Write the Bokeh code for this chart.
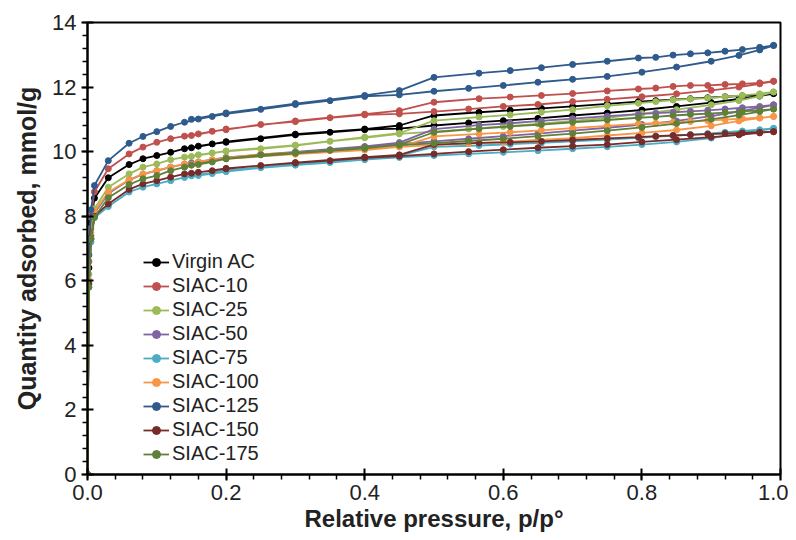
from bokeh.plotting import figure
from bokeh.models import Range1d, SingleIntervalTicker, NumeralTickFormatter, Legend, LegendItem
from bokeh.embed import file_html
from bokeh.resources import INLINE

# Relative pressure grids (adsorption up, desorption down)
ads_p = [0.0, 0.002, 0.005, 0.01, 0.03, 0.06, 0.08, 0.10, 0.12, 0.14, 0.16, 0.18, 0.20, 0.25, 0.30,
         0.35, 0.40, 0.45, 0.50, 0.55, 0.60, 0.65, 0.70, 0.75, 0.80, 0.85, 0.90, 0.94, 0.97, 0.99]
des_p = [0.99, 0.97, 0.945, 0.92, 0.895, 0.87, 0.845, 0.82, 0.795, 0.75, 0.70, 0.655, 0.61, 0.565,
         0.50, 0.45, 0.40, 0.30, 0.20, 0.15]

names = ["Virgin AC", "SIAC-10", "SIAC-25", "SIAC-50", "SIAC-75", "SIAC-100", "SIAC-125", "SIAC-150", "SIAC-175"]
colors = ["#000000", "#C0504D", "#9BBB59", "#8064A2", "#4BACC6", "#F79646", "#2F5A8C", "#772C2A", "#60803A"]

virgin_ads = [0, 6.4, 7.8, 8.56, 9.19, 9.60, 9.78, 9.88, 9.98, 10.09, 10.17, 10.24, 10.29, 10.40, 10.52,
              10.60, 10.68, 10.71, 10.81, 10.89, 10.96, 11.03, 11.12, 11.20, 11.29, 11.40, 11.52, 11.63, 11.72, 11.80]
virgin_des = [11.80, 11.76, 11.73, 11.70, 11.67, 11.64, 11.61, 11.58, 11.55, 11.48, 11.40, 11.34, 11.28, 11.22,
              11.12, 10.81, 10.70, 10.54, 10.31, 10.12]

siac10_ads = [0, 6.6, 8.0, 8.76, 9.47, 9.93, 10.14, 10.29, 10.40, 10.48, 10.55, 10.63, 10.68, 10.84, 10.93,
              11.05, 11.14, 11.17, 11.24, 11.32, 11.40, 11.46, 11.55, 11.62, 11.70, 11.79, 11.90, 12.00, 12.10, 12.18]
siac10_des = [12.18, 12.13, 12.10, 12.08, 12.05, 12.05, 12.02, 11.97, 11.94, 11.88, 11.80, 11.74, 11.69, 11.64,
              11.53, 11.27, 11.16, 10.95, 10.70, 10.50]

siac25_ads = [0, 6.2, 7.6, 8.23, 8.90, 9.31, 9.52, 9.62, 9.75, 9.83, 9.90, 9.96, 10.01, 10.09, 10.19,
              10.32, 10.43, 10.55, 10.62, 10.70, 10.78, 10.86, 10.95, 11.05, 11.18, 11.30, 11.45, 11.58, 11.72, 11.85]
siac25_des = [11.85, 11.79, 11.74, 11.70, 11.66, 11.63, 11.60, 11.55, 11.50, 11.42, 11.30, 11.22, 11.14, 11.07,
              10.96, 10.57, 10.45, 10.20, 10.02, 9.85]

siac50_ads = [0, 6.0, 7.4, 8.10, 8.70, 9.12, 9.30, 9.41, 9.52, 9.61, 9.68, 9.74, 9.80, 9.91, 9.98,
              10.06, 10.14, 10.24, 10.32, 10.40, 10.48, 10.56, 10.65, 10.74, 10.84, 10.95, 11.10, 11.24, 11.36, 11.45]
siac50_des = [11.45, 11.40, 11.36, 11.32, 11.28, 11.25, 11.22, 11.19, 11.16, 11.10, 11.02, 10.95, 10.88, 10.82,
              10.70, 10.28, 10.16, 9.99, 9.82, 9.65]

siac75_ads = [0, 5.8, 7.2, 7.95, 8.30, 8.75, 8.90, 9.00, 9.10, 9.20, 9.26, 9.32, 9.38, 9.50, 9.58,
              9.66, 9.75, 9.82, 9.88, 9.93, 9.98, 10.03, 10.09, 10.15, 10.22, 10.30, 10.42, 10.55, 10.65, 10.72]
siac75_des = [10.72, 10.68, 10.64, 10.60, 10.56, 10.53, 10.50, 10.46, 10.43, 10.37, 10.32, 10.27, 10.23, 10.19,
              10.15, 9.88, 9.78, 9.62, 9.42, 9.25]

siac100_ads = [0, 6.0, 7.5, 8.15, 8.74, 9.13, 9.31, 9.41, 9.52, 9.62, 9.68, 9.75, 9.81, 9.92, 9.97,
               10.03, 10.10, 10.15, 10.20, 10.25, 10.30, 10.36, 10.42, 10.50, 10.58, 10.67, 10.80, 10.95, 11.04, 11.09]
siac100_des = [11.09, 11.05, 11.02, 10.99, 10.96, 10.93, 10.91, 10.88, 10.86, 10.80, 10.73, 10.66, 10.60, 10.55,
               10.47, 10.15, 10.05, 9.92, 9.78, 9.60]

siac125_ads = [0, 6.8, 8.2, 8.95, 9.72, 10.26, 10.47, 10.62, 10.78, 10.91, 11.01, 11.09, 11.17, 11.31, 11.46,
               11.58, 11.71, 11.76, 11.87, 11.96, 12.05, 12.15, 12.24, 12.33, 12.46, 12.62, 12.80, 12.98, 13.15, 13.29]
siac125_des = [13.29, 13.23, 13.16, 13.11, 13.06, 13.03, 12.99, 12.92, 12.90, 12.80, 12.70, 12.60, 12.51, 12.43,
               12.30, 11.89, 11.74, 11.49, 11.20, 11.00]

siac150_ads = [0, 5.9, 7.3, 8.00, 8.38, 8.83, 9.00, 9.10, 9.21, 9.31, 9.36, 9.41, 9.47, 9.57, 9.65,
               9.72, 9.81, 9.86, 9.93, 10.00, 10.06, 10.12, 10.17, 10.22, 10.30, 10.37, 10.45, 10.52, 10.58, 10.62]
siac150_des = [10.62, 10.60, 10.58, 10.56, 10.54, 10.52, 10.50, 10.48, 10.45, 10.41, 10.36, 10.32, 10.29, 10.27,
               10.22, 9.90, 9.83, 9.66, 9.48, 9.33]

siac175_ads = [0, 5.8, 7.3, 7.97, 8.57, 8.98, 9.16, 9.26, 9.41, 9.52, 9.60, 9.68, 9.78, 9.90, 9.97,
               10.04, 10.12, 10.20, 10.26, 10.33, 10.40, 10.48, 10.56, 10.65, 10.75, 10.87, 11.00, 11.13, 11.24, 11.32]
siac175_des = [11.32, 11.28, 11.25, 11.21, 11.18, 11.15, 11.12, 11.08, 11.05, 10.98, 10.91, 10.84, 10.78, 10.71,
               10.60, 10.22, 10.10, 9.95, 9.78, 9.58]

ads_all = [virgin_ads, siac10_ads, siac25_ads, siac50_ads, siac75_ads, siac100_ads, siac125_ads, siac150_ads, siac175_ads]
des_all = [virgin_des, siac10_des, siac25_des, siac50_des, siac75_des, siac100_des, siac125_des, siac150_des, siac175_des]

FONT = "Liberation Sans"

p = figure(width=788, height=540, output_backend="svg", toolbar_location=None,
           x_range=Range1d(0, 1), y_range=Range1d(0, 14),
           min_border_left=87, min_border_right=8, min_border_top=22, min_border_bottom=66)
p.xgrid.visible = False
p.ygrid.visible = False
p.outline_line_color = "black"
p.outline_line_width = 2
p.background_fill_color = "white"
p.border_fill_color = "white"

items = []
for name, col, ya, yd in zip(names, colors, ads_all, des_all):
    xs = ads_p + des_p
    ys = ya + yd
    ln = p.line(xs, ys, line_color=col, line_width=1.8)
    sc = p.scatter(xs, ys, marker="circle", size=6, fill_color=col, line_color=col)
    items.append(LegendItem(label=name, renderers=[ln, sc]))

p.xaxis.ticker = SingleIntervalTicker(interval=0.2, num_minor_ticks=5)
p.yaxis.ticker = SingleIntervalTicker(interval=2, num_minor_ticks=5)
p.xaxis.formatter = NumeralTickFormatter(format="0.0")

for ax in (p.xaxis[0], p.yaxis[0]):
    ax.axis_line_color = "black"
    ax.axis_line_width = 2
    ax.major_tick_line_color = "black"
    ax.major_tick_line_width = 2
    ax.minor_tick_line_color = "black"
    ax.minor_tick_line_width = 1.5
    ax.major_tick_in = 6
    ax.major_tick_out = 6
    ax.minor_tick_in = 0
    ax.minor_tick_out = 5
    ax.major_label_text_font = FONT
    ax.major_label_text_font_size = "22px"
    ax.major_label_text_color = "#222222"
    ax.axis_label_text_font = FONT
    ax.axis_label_text_font_style = "bold"
    ax.axis_label_text_color = "#222222"

p.xaxis.axis_label_text_font_size = "24px"
p.yaxis.axis_label_text_font_size = "25px"
p.xaxis.axis_label = "Relative pressure, p/p°"
p.yaxis.axis_label = "Quantity adsorbed, mmol/g"
p.xaxis.major_label_standoff = 4
p.yaxis.major_label_standoff = 5
p.xaxis.axis_label_standoff = 2
p.yaxis.axis_label_standoff = 8

legend = Legend(items=items, location=(56, 9))
legend.background_fill_alpha = 0
legend.border_line_alpha = 0
legend.padding = 0
legend.margin = 0
legend.spacing = 1
legend.glyph_width = 26
legend.glyph_height = 20
legend.label_height = 20
legend.label_standoff = 3
legend.label_text_font = FONT
legend.label_text_font_size = "20px"
legend.label_text_color = "#222222"
p.add_layout(legend, "center")

open("out.html", "w").write(file_html(p, INLINE))
